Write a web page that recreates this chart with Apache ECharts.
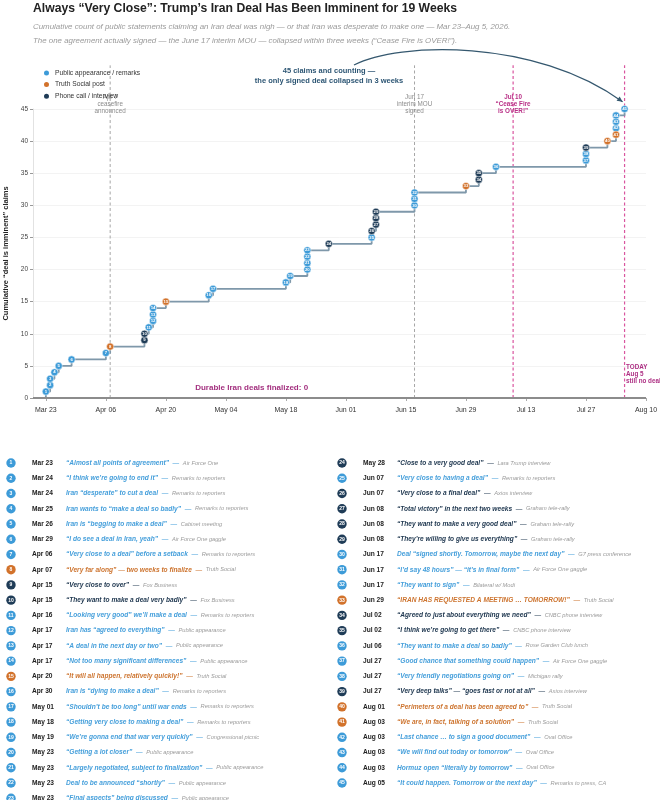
<!DOCTYPE html>
<html><head><meta charset="utf-8">
<script src="https://cdn.jsdelivr.net/npm/echarts@6/dist/echarts.min.js"></script>
<style>html,body{margin:0;padding:0;background:#fff}#c{width:660px;height:800px}</style>
</head><body><div id="c"></div>
<script>
// ---------- data ----------
const claimDates = ['Mar 23','Mar 24','Mar 24','Mar 25','Mar 26','Mar 29','Apr 06','Apr 07','Apr 15','Apr 15',
  'Apr 16','Apr 17','Apr 17','Apr 17','Apr 20','Apr 30','May 01','May 18','May 19','May 23',
  'May 23','May 23','May 23','May 28','Jun 07','Jun 07','Jun 08','Jun 08','Jun 08','Jun 17',
  'Jun 17','Jun 17','Jun 29','Jul 02','Jul 02','Jul 06','Jul 27','Jul 27','Jul 27','Aug 01',
  'Aug 03','Aug 03','Aug 03','Aug 03','Aug 05'];
const claimTypes = ['P','P','P','P','P','P','P','T','C','C',
  'P','P','P','P','T','P','P','P','P','P',
  'P','P','P','C','P','C','C','C','C','P',
  'P','P','T','C','C','P','P','P','C','T',
  'T','P','P','P','P'];
const claimQuotes = [
  '“Almost all points of agreement”','“I think we’re going to end it”','Iran “desperate” to cut a deal',
  'Iran wants to “make a deal so badly”','Iran is “begging to make a deal”','“I do see a deal in Iran, yeah”',
  '“Very close to a deal” before a setback','“Very far along” — two weeks to finalize','“Very close to over”',
  '“They want to make a deal very badly”','“Looking very good” we’ll make a deal','Iran has “agreed to everything”',
  '“A deal in the next day or two”','“Not too many significant differences”','“It will all happen, relatively quickly!”',
  'Iran is “dying to make a deal”','“Shouldn’t be too long” until war ends','“Getting very close to making a deal”',
  '“We’re gonna end that war very quickly”','“Getting a lot closer”','“Largely negotiated, subject to finalization”',
  'Deal to be announced “shortly”','“Final aspects” being discussed','“Close to a very good deal”',
  '“Very close to having a deal”','“Very close to a final deal”','“Total victory” in the next two weeks',
  '“They want to make a very good deal”','“They’re willing to give us everything”','Deal “signed shortly. Tomorrow, maybe the next day”',
  '“I’d say 48 hours” — “it’s in final form”','“They want to sign”','“IRAN HAS REQUESTED A MEETING … TOMORROW!”',
  '“Agreed to just about everything we need”','“I think we’re going to get there”','“They want to make a deal so badly”',
  '“Good chance that something could happen”','“Very friendly negotiations going on”','“Very deep talks” — “goes fast or not at all”',
  '“Perimeters of a deal has been agreed to”','“We are, in fact, talking of a solution”','“Last chance … to sign a good document”',
  '“We will find out today or tomorrow”','Hormuz open “literally by tomorrow”','“It could happen. Tomorrow or the next day”'];
const claimSources = [
  'Air Force One','Remarks to reporters','Remarks to reporters','Remarks to reporters','Cabinet meeting',
  'Air Force One gaggle','Remarks to reporters','Truth Social','Fox Business','Fox Business',
  'Remarks to reporters','Public appearance','Public appearance','Public appearance','Truth Social',
  'Remarks to reporters','Remarks to reporters','Remarks to reporters','Congressional picnic','Public appearance',
  'Public appearance','Public appearance','Public appearance','Lara Trump interview','Remarks to reporters',
  'Axios interview','Graham tele-rally','Graham tele-rally','Graham tele-rally','G7 press conference',
  'Air Force One gaggle','Bilateral w/ Modi','Truth Social','CNBC phone interview','CNBC phone interview',
  'Rose Garden Club lunch','Air Force One gaggle','Michigan rally','Axios interview','Truth Social',
  'Truth Social','Oval Office','Oval Office','Oval Office','Remarks to press, CA'];
const typeKeys = ['P','T','C'];
const typeNames = ['Public appearance / remarks','Truth Social post','Phone call / interview'];
const xTickDates = ['Mar 23','Apr 06','Apr 20','May 04','May 18','Jun 01','Jun 15','Jun 29','Jul 13','Jul 27','Aug 10'];
const xRange = ['Mar 20','Aug 10'];
const eventDates = ['Apr 07','Jun 17','Jul 10','Aug 05'];
const eventLabels = ['Apr 7\nceasefire\nannounced','Jun 17\ninterim MOU\nsigned','Jul 10\n“Cease Fire\nis OVER!”','TODAY\nAug 5\nstill no deal'];
const eventKinds = ['muted','muted','alert','today'];
const titleText = 'Always “Very Close”: Trump’s Iran Deal Has Been Imminent for 19 Weeks';
const subLines = ['Cumulative count of public statements claiming an Iran deal was nigh — or that Iran was desperate to make one — Mar 23–Aug 5, 2026.',
  'The one agreement actually signed — the June 17 interim MOU — collapsed within three weeks (“Cease Fire is OVER!”).'];
const calloutText = '45 claims and counting —\nthe only signed deal collapsed in 3 weeks';
const zeroText = 'Durable Iran deals finalized: 0';
const zeroTextAt = ['May 10', 1.6];
const yName = 'Cumulative “deal is imminent” claims';

// ---------- helpers ----------
const MON = ['Jan','Feb','Mar','Apr','May','Jun','Jul','Aug','Sep','Oct','Nov','Dec'];
const BASE = Date.UTC(2026, 2, 20);
function dayIdx(s){ const [m,d] = s.split(' '); return (Date.UTC(2026, MON.indexOf(m), +d) - BASE)/86400000; }
function fmtDay(v){ const dt = new Date(BASE + Math.round(v)*86400000); return MON[dt.getUTCMonth()] + ' ' + String(dt.getUTCDate()).padStart(2,'0'); }

const COLORS = {P:'#3d9bd8', T:'#d2722b', C:'#1f3c57'};
const QCOL = {P:'#459fdb', T:'#cd742f', C:'#223a52'};
const FONT = '"Liberation Sans", Arial, sans-serif';

const points = claimDates.map((d,i)=>[dayIdx(d), i+1, i+1]);
const stepData = [[points[0][0], 0]].concat(points.map(p=>[p[0], p[1]]));

const scatterSeries = typeKeys.map((k,ti)=>({
  name: typeNames[ti], type:'scatter', z:5, clip:false,
  symbol:'circle', symbolSize:7.2,
  itemStyle:{color:COLORS[k], borderColor:'#ffffff', borderWidth:0.5, opacity:1},
  label:{show:true, position:'inside', formatter:p=>p.value[2], fontSize:4.3, fontWeight:'bold', color:'#fff', fontFamily:FONT},
  data: points.filter((p,i)=>claimTypes[i]===k)
}));

const chart = echarts.init(document.getElementById('c'), null, {renderer:'canvas'});
const option = {
  animation:false,
  backgroundColor:'#fff',
  textStyle:{fontFamily:FONT},
  grid:{left:33, right:14, top:109, bottom:402, containLabel:false, outerBoundsMode:'none'},
  legend:{data:typeNames, orient:'vertical', left:42, top:68.5, padding:0, itemGap:2.6,
    itemWidth:7, itemHeight:7, icon:'circle', textStyle:{fontSize:6.7, color:'#333', fontFamily:FONT}, selectedMode:false},
  xAxis:{type:'value', min:dayIdx(xRange[0]), max:dayIdx(xRange[1]), offset:5,
    splitLine:{show:false},
    axisLine:{show:true, lineStyle:{color:'#cfcfcf', width:1}},
    axisTick:{show:true, customValues:xTickDates.map(dayIdx), length:3, lineStyle:{color:'#aaa'}},
    axisLabel:{customValues:xTickDates.map(dayIdx), formatter:v=>fmtDay(v), fontSize:7, color:'#333', margin:4, fontFamily:FONT}},
  yAxis:{type:'value', min:0, max:45, interval:5,
    name:yName, nameLocation:'middle', nameRotate:90, nameGap:16,
    nameTextStyle:{fontSize:7.5, fontWeight:'bold', color:'#222', fontFamily:FONT},
    axisLine:{show:true, lineStyle:{color:'#e2e2e2'}},
    axisTick:{show:true, length:3, lineStyle:{color:'#999'}},
    axisLabel:{fontSize:6.5, color:'#444', margin:5, fontFamily:FONT},
    splitLine:{lineStyle:{color:'#f0f0f0', width:0.8}}},
  series:[
    {name:'cumulative', type:'line', step:'end', data:stepData, symbol:'none', showSymbol:false, z:3,
      lineStyle:{color:'#7f98aa', width:1.8}, clip:false,
      markLine:{silent:true, symbol:'none', label:{show:false}, lineStyle:{color:'#8c8c8c', width:2, type:'solid'}, data:[{yAxis:0}]}},
    ...scatterSeries,
    {name:'events', type:'custom', z:2, clip:false, silent:true,
      data:eventDates.map((d,i)=>[dayIdx(d), i]),
      renderItem:(params, api)=>{
        const x = api.value(0), i = api.value(1), kind = eventKinds[i];
        const b = api.coord([x,0]), t = api.coord([x,51.8]);
        const alert = kind !== 'muted';
        const ch = [{type:'line', shape:{x1:b[0], y1:b[1], x2:t[0], y2:t[1]},
          style:{stroke: alert ? '#d9559f' : '#a6a6a6', lineWidth: alert ? 1.2 : 1, lineDash:[3,2.5]}}];
        if (kind === 'today') {
          const p = api.coord([x,5.4]);
          ch.push({type:'text', x:p[0]+1.5, y:p[1], style:{text:eventLabels[i], fill:'#ad2f83', font:'bold 6.3px '+FONT,
            align:'left', verticalAlign:'top', lineHeight:7.2}});
        } else {
          const p = api.coord([x,45]);
          ch.push({type:'text', x:p[0], y:p[1]-4.6, style:{text:eventLabels[i], fill: alert ? '#b92f86' : '#8c8c8c',
            font:(alert?'bold ':'')+'6.3px '+FONT, align:'center', verticalAlign:'middle', lineHeight:7}});
        }
        return {type:'group', children:ch};
      }}
  ]
};
chart.setOption(option);

// ---------- annotations & list ----------
const g = [];
g.push({type:'text', x:33, y:8.5, style:{text:titleText, font:'bold 12.2px '+FONT, fill:'#222', verticalAlign:'middle'}});
subLines.forEach((s,i)=>g.push({type:'text', x:33, y:26.7+i*14, style:{text:s, font:'italic 7.9px '+FONT, fill:'#9a9a9a', verticalAlign:'middle'}}));

const zp = chart.convertToPixel({gridIndex:0}, [dayIdx(zeroTextAt[0]), zeroTextAt[1]]);
g.push({type:'text', x:zp[0], y:zp[1], style:{text:zeroText, font:'bold 8px '+FONT, fill:'#a3307f', align:'center', verticalAlign:'middle'}});

g.push({type:'text', x:329, y:76, style:{text:calloutText, font:'bold 7.5px '+FONT, fill:'#2d5674', align:'center', verticalAlign:'middle', lineHeight:9.5}});
const last = points[points.length-1];
const lp = chart.convertToPixel({gridIndex:0}, [last[0], last[1]]);
const P0=[354,65], P1=[398,42], P2=[535,38], P3=[lp[0]-2, lp[1]-7.2];
g.push({type:'bezierCurve', shape:{x1:P0[0], y1:P0[1], cpx1:P1[0], cpy1:P1[1], cpx2:P2[0], cpy2:P2[1], x2:P3[0], y2:P3[1]},
  style:{stroke:'#35586f', lineWidth:1.3, fill:null}});
{
  const dx=P3[0]-P2[0], dy=P3[1]-P2[1], L=Math.hypot(dx,dy), ux=dx/L, uy=dy/L, hl=5.5, hw=2.6;
  const bx=P3[0]-ux*hl, by=P3[1]-uy*hl;
  g.push({type:'polygon', shape:{points:[[P3[0],P3[1]],[bx-uy*hw, by+ux*hw],[bx+uy*hw, by-ux*hw]]}, style:{fill:'#35586f'}});
}

const ROW0 = 463, DY = 15.24, LEFT_N = 23;
claimDates.forEach((d,i)=>{
  const col = i < LEFT_N ? 0 : 1;
  const r = col ? i-LEFT_N : i;
  const y = ROW0 + r*DY;
  const bx = col ? 342 : 11, dx = col ? 363 : 32, qx = col ? 397 : 66;
  const k = claimTypes[i];
  g.push({type:'circle', shape:{cx:bx, cy:y, r:4.7}, style:{fill:COLORS[k]}});
  g.push({type:'text', x:bx, y:y, style:{text:String(i+1), font:'bold 5px '+FONT, fill:'#fff', align:'center', verticalAlign:'middle'}});
  g.push({type:'text', x:dx, y:y, style:{text:d, font:'bold 6.6px '+FONT, fill:'#222', verticalAlign:'middle'}});
  g.push({type:'text', x:qx, y:y, style:{
    text:'{q|'+claimQuotes[i]+'}{d|  —  }{s|'+claimSources[i]+'}', verticalAlign:'middle',
    rich:{
      q:{fontSize:6.6, fontWeight:'bold', fontStyle:'italic', fontFamily:FONT, fill:QCOL[k]},
      d:{fontSize:6.6, fontFamily:FONT, fill:QCOL[k]},
      s:{fontSize:5.7, fontStyle:'italic', fontFamily:FONT, fill:'#9a9a9a'}
    }}});
});
chart.setOption({graphic:g});
</script></body></html>
